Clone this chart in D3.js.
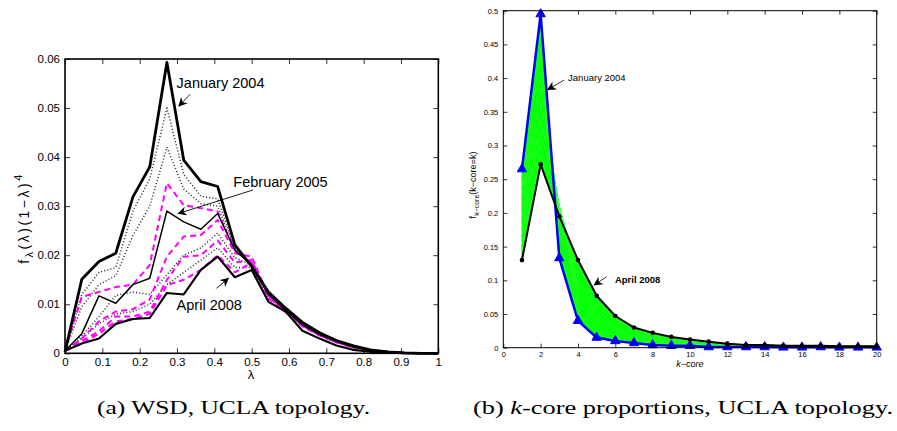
<!DOCTYPE html>
<html>
<head>
<meta charset="utf-8">
<script src="https://cdn.jsdelivr.net/npm/d3@7"></script>
<style>
  body { margin: 0; background: #fff; }
  svg text { font-family: "Liberation Sans", Arial, sans-serif; }
</style>
</head>
<body>
<div id="chart"></div>
<script>
// ---- (a) WSD, UCLA topology ----
const lambdas = [0, 0.045, 0.091, 0.136, 0.182, 0.227, 0.273, 0.318, 0.364, 0.409, 0.455, 0.5,
  0.545, 0.591, 0.636, 0.682, 0.727, 0.773, 0.818, 0.864, 0.909, 0.955, 1];

const wsdJan2004 = [0.0003, 0.0151, 0.0187, 0.0204, 0.0319, 0.038, 0.0593, 0.0394, 0.035, 0.034, 0.0221, 0.0177,
  0.0125, 0.0092, 0.0063, 0.0042, 0.0026, 0.0015, 0.0007, 0.0003, 0.0001, 0, 0];
const wsdDot1 = [0.0004, 0.012, 0.0165, 0.0175, 0.029, 0.0355, 0.05, 0.0365, 0.032, 0.0315, 0.0215, 0.018,
  0.0124, 0.0091, 0.0062, 0.0041, 0.0025, 0.0014, 0.0007, 0.0003, 0.0001, 0, 0];
const wsdDot2 = [0.0004, 0.0095, 0.014, 0.0158, 0.024, 0.03, 0.042, 0.0335, 0.0305, 0.03, 0.0212, 0.018,
  0.0123, 0.009, 0.0062, 0.0041, 0.0025, 0.0014, 0.0007, 0.0003, 0.0001, 0, 0];
const wsdDash1 = [0.0005, 0.0115, 0.0125, 0.0135, 0.014, 0.018, 0.0347, 0.0302, 0.0296, 0.0289, 0.021, 0.0185,
  0.012, 0.009, 0.006, 0.004, 0.0025, 0.0014, 0.0007, 0.0003, 0.0001, 0, 0];
const wsdFeb2005 = [0.0005, 0.004, 0.0117, 0.0102, 0.014, 0.0153, 0.029, 0.0268, 0.0253, 0.0285, 0.021, 0.018,
  0.012, 0.0088, 0.0058, 0.0038, 0.0024, 0.0013, 0.0006, 0.0003, 0.0001, 0, 0];
const wsdDash2 = [0.0005, 0.003, 0.0065, 0.0085, 0.009, 0.011, 0.0197, 0.0238, 0.0241, 0.0272, 0.0204, 0.0197,
  0.0118, 0.0088, 0.0058, 0.0038, 0.0023, 0.0013, 0.0006, 0.0003, 0.0001, 0, 0];
const wsdDot3 = [0.0005, 0.0035, 0.0075, 0.0118, 0.0125, 0.012, 0.016, 0.02, 0.0215, 0.0245, 0.0195, 0.018,
  0.0116, 0.0087, 0.0057, 0.0037, 0.0023, 0.0013, 0.0006, 0.0003, 0.0001, 0, 0];
const wsdDash3 = [0.0005, 0.0025, 0.0045, 0.0075, 0.0075, 0.0085, 0.015, 0.0197, 0.02, 0.023, 0.0185, 0.019,
  0.0115, 0.0086, 0.0057, 0.0037, 0.0023, 0.0013, 0.0006, 0.0003, 0.0001, 0, 0];
const wsdDot4 = [0.0005, 0.003, 0.006, 0.008, 0.0085, 0.01, 0.014, 0.0165, 0.019, 0.0215, 0.0175, 0.0175,
  0.0112, 0.0085, 0.0056, 0.0036, 0.0022, 0.0012, 0.0006, 0.0003, 0.0001, 0, 0];
const wsdDash4 = [0.0005, 0.002, 0.004, 0.0065, 0.007, 0.008, 0.0139, 0.015, 0.017, 0.02, 0.0165, 0.0185,
  0.0112, 0.0084, 0.0055, 0.0036, 0.0022, 0.0012, 0.0006, 0.0003, 0.0001, 0, 0];
const wsdApr2008 = [0.0005, 0.002, 0.003, 0.006, 0.007, 0.0072, 0.0123, 0.012, 0.017, 0.0197, 0.0155, 0.017,
  0.0105, 0.0085, 0.0046, 0.003, 0.0016, 0.0007, 0.0003, 0.0001, 0, 0, 0];

const wsdXTicks = [0, 0.1, 0.2, 0.3, 0.4, 0.5, 0.6, 0.7, 0.8, 0.9, 1];
const wsdXLabels = ["0", "0.1", "0.2", "0.3", "0.4", "0.5", "0.6", "0.7", "0.8", "0.9", "1"];
const wsdYTicks = [0, 0.01, 0.02, 0.03, 0.04, 0.05, 0.06];
const wsdYLabels = ["0", "0.01", "0.02", "0.03", "0.04", "0.05", "0.06"];

// ---- (b) k-core proportions ----
const kValues = [1, 2, 3, 4, 5, 6, 7, 8, 9, 10, 11, 12, 13, 14, 15, 16, 17, 18, 19, 20];
const kcoreJan2004 = [0.265, 0.495, 0.133, 0.04, 0.015, 0.01, 0.007, 0.004, 0.003, 0.003,
  0.001, 0.001, 0.001, 0.001, 0.0005, 0.0005, 0.001, 0.0005, 0.0005, 0.0005];
const kcoreMonths = [
  [0.25, 0.47, 0.15, 0.05, 0.02, 0.012, 0.008, 0.005, 0.004, 0.003, 0.002, 0.0015, 0.001, 0.001, 0.001, 0.001, 0.001, 0.001, 0.001, 0.001],
  [0.235, 0.44, 0.17, 0.058, 0.025, 0.014, 0.009, 0.006, 0.0045, 0.0035, 0.0025, 0.002, 0.0015, 0.0012, 0.001, 0.001, 0.001, 0.001, 0.001, 0.001],
  [0.22, 0.41, 0.19, 0.066, 0.03, 0.017, 0.011, 0.0075, 0.0055, 0.0045, 0.003, 0.0022, 0.0018, 0.0015, 0.0012, 0.0012, 0.0012, 0.001, 0.001, 0.001],
  [0.205, 0.385, 0.205, 0.075, 0.035, 0.02, 0.013, 0.009, 0.0065, 0.005, 0.004, 0.003, 0.002, 0.0018, 0.0015, 0.0014, 0.0014, 0.0012, 0.0012, 0.0012],
  [0.19, 0.36, 0.21, 0.085, 0.041, 0.024, 0.015, 0.011, 0.008, 0.006, 0.005, 0.0035, 0.0025, 0.002, 0.0018, 0.0016, 0.0016, 0.0014, 0.0014, 0.0014],
  [0.175, 0.34, 0.21, 0.095, 0.048, 0.028, 0.018, 0.013, 0.0095, 0.0075, 0.006, 0.004, 0.003, 0.0025, 0.002, 0.002, 0.002, 0.0016, 0.0016, 0.0016],
  [0.165, 0.32, 0.21, 0.105, 0.055, 0.033, 0.021, 0.015, 0.011, 0.009, 0.007, 0.0045, 0.0032, 0.003, 0.0024, 0.0022, 0.0022, 0.0018, 0.0018, 0.0018],
  [0.15, 0.3, 0.205, 0.115, 0.063, 0.038, 0.024, 0.018, 0.013, 0.01, 0.008, 0.005, 0.0036, 0.0034, 0.0026, 0.0025, 0.0025, 0.0019, 0.0019, 0.0019],
  [0.14, 0.285, 0.2, 0.123, 0.07, 0.043, 0.027, 0.02, 0.015, 0.011, 0.0085, 0.0055, 0.0038, 0.0037, 0.0028, 0.0028, 0.0028, 0.002, 0.002, 0.002]
];
const kcoreApr2008 = [0.13, 0.272, 0.195, 0.13, 0.077, 0.047, 0.03, 0.022, 0.016, 0.012,
  0.009, 0.006, 0.004, 0.004, 0.003, 0.003, 0.003, 0.002, 0.002, 0.002];

const kXTicks = [0, 2, 4, 6, 8, 10, 12, 14, 16, 18, 20];
const kYTicks = [0, 0.05, 0.1, 0.15, 0.2, 0.25, 0.3, 0.35, 0.4, 0.45, 0.5];
const kYLabels = ["0", "0.05", "0.1", "0.15", "0.2", "0.25", "0.3", "0.35", "0.4", "0.45", "0.5"];

const width = 897;
const height = 431;

const svg = d3
  .select("#chart")
  .append("svg")
  .attr("width", width)
  .attr("height", height)
  .style("background", "#fff");

const defs = svg.append("defs");
defs
  .append("marker")
  .attr("id", "arrow")
  .attr("viewBox", "0 0 10 10")
  .attr("refX", 9)
  .attr("refY", 5)
  .attr("markerWidth", 9)
  .attr("markerHeight", 9)
  .attr("markerUnits", "userSpaceOnUse")
  .attr("orient", "auto")
  .append("path")
  .attr("d", "M0,0 L10,5 L0,10 L3,5 Z")
  .attr("fill", "#000");

// MATLAB-like box with inward ticks on all four sides
function drawBox(g, x, y, xTicks, xLabels, yTicks, yLabels, tick, fontSize, padX, padY, boxWidth) {
  const [x0, x1] = x.range();
  const [y0, y1] = y.range();
  const bottom = g.append("g").attr("transform", `translate(0,${y0})`)
    .call(d3.axisBottom(x).tickValues(xTicks).tickFormat((d, i) => xLabels[i]).tickSize(-tick).tickPadding(padX));
  const top = g.append("g").attr("transform", `translate(0,${y1})`)
    .call(d3.axisTop(x).tickValues(xTicks).tickFormat("").tickSize(-tick));
  const left = g.append("g").attr("transform", `translate(${x0},0)`)
    .call(d3.axisLeft(y).tickValues(yTicks).tickFormat((d, i) => yLabels[i]).tickSize(-tick).tickPadding(padY));
  const right = g.append("g").attr("transform", `translate(${x1},0)`)
    .call(d3.axisRight(y).tickValues(yTicks).tickFormat("").tickSize(-tick));
  [bottom, top, left, right].forEach((a) => {
    a.select(".domain").remove();
    a.selectAll("line").attr("stroke", "#000").attr("stroke-width", 0.8);
    a.selectAll("text").attr("fill", "#000").style("font-size", fontSize + "px");
  });
  g.append("rect")
    .attr("x", x0).attr("y", y1)
    .attr("width", x1 - x0).attr("height", y0 - y1)
    .attr("fill", "none").attr("stroke", "#000").attr("stroke-width", boxWidth);
}

// ---------- chart (a) ----------
const xA = d3.scaleLinear().domain([0, 1]).range([65, 438.3]);
const yA = d3.scaleLinear().domain([0, 0.06]).range([353.3, 59]);
const gA = svg.append("g");

const lineA = d3.line().x((d, i) => xA(lambdas[i])).y((d) => yA(d));

const wsdSeries = [
  { v: wsdDot4, color: "#222", w: 1.5, dash: "1,2.2" },
  { v: wsdDot3, color: "#222", w: 1.5, dash: "1,2.2" },
  { v: wsdDot2, color: "#222", w: 1.5, dash: "1,2.2" },
  { v: wsdDot1, color: "#222", w: 1.5, dash: "1,2.2" },
  { v: wsdDash4, color: "#ff00ff", w: 2, dash: "6,4" },
  { v: wsdDash3, color: "#ff00ff", w: 2, dash: "6,4" },
  { v: wsdDash2, color: "#ff00ff", w: 2, dash: "6,4" },
  { v: wsdDash1, color: "#ff00ff", w: 2, dash: "6,4" },
  { v: wsdFeb2005, color: "#000", w: 1.5, dash: null },
  { v: wsdApr2008, color: "#000", w: 2.1, dash: null },
  { v: wsdJan2004, color: "#000", w: 2.8, dash: null }
];

gA.selectAll("path.wsd")
  .data(wsdSeries)
  .enter()
  .append("path")
  .attr("class", "wsd")
  .attr("d", (d) => lineA(d.v))
  .attr("fill", "none")
  .attr("stroke", (d) => d.color)
  .attr("stroke-width", (d) => d.w)
  .attr("stroke-dasharray", (d) => d.dash)
  .attr("stroke-linejoin", "round");

drawBox(gA, xA, yA, wsdXTicks, wsdXLabels, wsdYTicks, wsdYLabels, 5, 11.5, 4.5, 5, 1.6);

// annotations (a)
const notesA = [
  { text: "January 2004", tx: 0.299, ty: 0.054, ax0: 0.335, ay0: 0.0528, ax1: 0.305, ay1: 0.0504 },
  { text: "February 2005", tx: 0.451, ty: 0.034, ax0: 0.504, ay0: 0.0333, ax1: 0.3035, ay1: 0.0285 },
  { text: "April 2008", tx: 0.299, ty: 0.0088, ax0: 0.406, ay0: 0.01325, ax1: 0.4375, ay1: 0.0153 }
];
notesA.forEach((n) => {
  gA.append("text").attr("x", xA(n.tx)).attr("y", yA(n.ty))
    .style("font-size", "14.5px").text(n.text);
  gA.append("line")
    .attr("x1", xA(n.ax0)).attr("y1", yA(n.ay0))
    .attr("x2", xA(n.ax1)).attr("y2", yA(n.ay1))
    .attr("stroke", "#000").attr("stroke-width", 0.9)
    .attr("marker-end", "url(#arrow)");
});

gA.append("text")
  .attr("x", 251).attr("y", 379)
  .attr("text-anchor", "middle")
  .style("font-size", "13px")
  .text("λ");

const yLabA = gA.append("text")
  .attr("transform", "translate(29,218) rotate(-90)")
  .attr("text-anchor", "middle")
  .style("font-size", "14px")
  .style("letter-spacing", "2.5px");
yLabA.append("tspan").text("f");
yLabA.append("tspan").attr("dy", 4).style("font-size", "11px").text("λ");
yLabA.append("tspan").attr("dy", -4).text("(λ)(1−λ)");
yLabA.append("tspan").attr("dy", -7).style("font-size", "11px").text("4");

// ---------- chart (b) ----------
const xB = d3.scaleLinear().domain([0, 20]).range([503.3, 876.7]);
const yB = d3.scaleLinear().domain([0, 0.5]).range([347.7, 10.7]);
const gB = svg.append("g");

const lineB = d3.line().x((d, i) => xB(kValues[i])).y((d) => yB(d));

// green sweep between consecutive monthly curves
const ordered = [kcoreJan2004, ...kcoreMonths, kcoreApr2008];
const band = d3.area()
  .x((d, i) => xB(kValues[i]))
  .y0((d) => yB(d[0]))
  .y1((d) => yB(d[1]));
gB.selectAll("path.band")
  .data(d3.pairs(ordered))
  .enter()
  .append("path")
  .attr("class", "band")
  .attr("d", ([a, b]) => band(a.map((v, i) => [v, b[i]])))
  .attr("fill", "#00ff00")
  .attr("stroke", "#00ff00")
  .attr("stroke-width", 0.8);

gB.selectAll("path.month")
  .data(kcoreMonths)
  .enter()
  .append("path")
  .attr("class", "month")
  .attr("d", (d) => lineB(d))
  .attr("fill", "none")
  .attr("stroke", "#ffffff")
  .attr("stroke-opacity", 0.3)
  .attr("stroke-width", 0.4);

gB.append("path")
  .attr("d", lineB(kcoreJan2004))
  .attr("fill", "none")
  .attr("stroke", "#0000ff")
  .attr("stroke-width", 2.5)
  .attr("stroke-linejoin", "round");

gB.selectAll("path.tri")
  .data(kcoreJan2004)
  .enter()
  .append("path")
  .attr("class", "tri")
  .attr("transform", (d, i) => `translate(${xB(kValues[i])},${yB(d)})`)
  .attr("d", d3.symbol().type(d3.symbolTriangle).size(38))
  .attr("fill", "#0000ff")
  .attr("stroke", "#0000ff")
  .attr("stroke-width", 1);

gB.append("path")
  .attr("d", lineB(kcoreApr2008))
  .attr("fill", "none")
  .attr("stroke", "#000")
  .attr("stroke-width", 2)
  .attr("stroke-linejoin", "round");

gB.selectAll("circle.dot")
  .data(kcoreApr2008)
  .enter()
  .append("circle")
  .attr("class", "dot")
  .attr("cx", (d, i) => xB(kValues[i]))
  .attr("cy", (d) => yB(d))
  .attr("r", 2.3)
  .attr("fill", "#000");

drawBox(gB, xB, yB, kXTicks, kXTicks.map(String), kYTicks, kYLabels, 4, 7.5, 4, 5, 1);

const notesB = [
  { text: "January 2004", bold: false, tx: 3.47, ty: 0.3957, ax0: 3.25, ay0: 0.397, ax1: 2.38, ay1: 0.383 },
  { text: "April 2008", bold: true, tx: 5.98, ty: 0.096, ax0: 5.54, ay0: 0.1053, ax1: 4.87, ay1: 0.093 }
];
notesB.forEach((n) => {
  gB.append("text").attr("x", xB(n.tx)).attr("y", yB(n.ty))
    .style("font-size", "9.5px")
    .style("font-weight", n.bold ? "bold" : "normal")
    .text(n.text);
  gB.append("line")
    .attr("x1", xB(n.ax0)).attr("y1", yB(n.ay0))
    .attr("x2", xB(n.ax1)).attr("y2", yB(n.ay1))
    .attr("stroke", "#000").attr("stroke-width", 0.8)
    .attr("marker-end", "url(#arrow)");
});

gB.append("text")
  .attr("x", 690).attr("y", 367)
  .attr("text-anchor", "middle")
  .style("font-size", "9px")
  .style("font-style", "italic")
  .text("k−core");

const yLabB = gB.append("text")
  .attr("transform", "translate(476,185) rotate(-90)")
  .attr("text-anchor", "middle")
  .style("font-size", "9px");
yLabB.append("tspan").text("f");
yLabB.append("tspan").attr("dy", 3).style("font-size", "7px").text("k−core");
yLabB.append("tspan").attr("dy", -3).text("(k−core=k)");

// ---------- captions ----------
svg.append("text")
  .attr("x", 97).attr("y", 414)
  .attr("textLength", 273).attr("lengthAdjust", "spacingAndGlyphs")
  .style("font-family", "'Liberation Serif', 'DejaVu Serif', serif")
  .style("font-size", "19px")
  .text("(a) WSD, UCLA topology.");

const capB = svg.append("text")
  .attr("x", 473).attr("y", 414)
  .attr("textLength", 420).attr("lengthAdjust", "spacingAndGlyphs")
  .style("font-family", "'Liberation Serif', 'DejaVu Serif', serif")
  .style("font-size", "19px");
capB.append("tspan").text("(b) ");
capB.append("tspan").style("font-style", "italic").text("k");
capB.append("tspan").text("-core proportions, UCLA topology.");
</script>
</body>
</html>
